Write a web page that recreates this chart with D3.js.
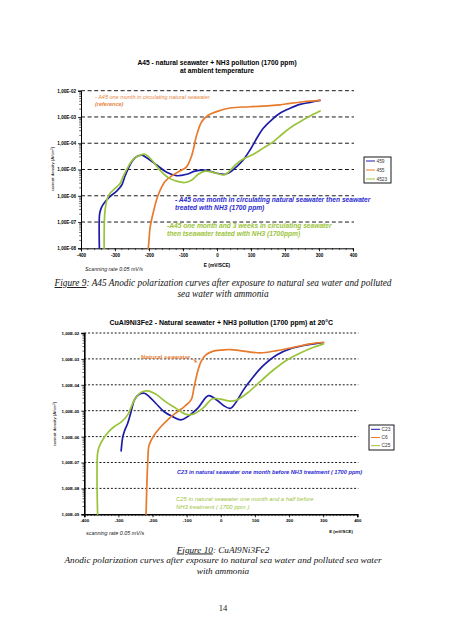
<!DOCTYPE html>
<html><head><meta charset="utf-8">
<script src="https://cdn.jsdelivr.net/npm/d3@7/dist/d3.min.js"></script>
<style>body{margin:0;background:#fff;}svg{display:block;}</style>
</head><body>
<script>
// ---------- DATA ----------
const xTickValues = [-400,-300,-200,-100,0,100,200,300,400];
const yTickLabels1 = ["1,00E-02","1,00E-03","1,00E-04","1,00E-05","1,00E-06","1,00E-07","1,00E-08"];
const yTickValues1 = [1e-2,1e-3,1e-4,1e-5,1e-6,1e-7,1e-8];
const yTickLabels2 = ["1,00E-02","1,00E-03","1,00E-04","1,00E-05","1,00E-06","1,00E-07","1,00E-08","1,00E-09"];
const yTickValues2 = [1e-2,1e-3,1e-4,1e-5,1e-6,1e-7,1e-8,1e-9];

// Figure 9 (A45)  E in mV/SCE, i in A/cm2
const s459E = [-346,-346,-344,-339,-329,-315,-295,-280,-271,-256,-241,-221,-207,-177,-148,-119,-89,-65,-40,-21,-1,24,38,58,77,97,117,136,161,185,215,244,274,303];
const s459I = [1e-8,1.58e-7,2.45e-7,3.8e-7,5.9e-7,9.3e-7,1.51e-6,2.57e-6,5.4e-6,1.48e-5,2.8e-5,3.5e-5,2.8e-5,1.48e-5,7.8e-6,5.8e-6,6.6e-6,8.7e-6,9.5e-6,8.7e-6,7.2e-6,6.6e-6,7.8e-6,1.29e-5,2.3e-5,5.5e-5,1.55e-4,3.7e-4,7.8e-4,1.38e-3,2.14e-3,3.0e-3,3.6e-3,4.3e-3];
const s455E = [-202,-200,-197,-187,-173,-153,-129,-104,-89,-74,-60,-45,-26,-1,38,97,156,185,215,254,303];
const s455I = [1e-8,2e-8,5.8e-8,2.45e-7,1.07e-6,3.5e-6,6.2e-6,9.5e-6,1.29e-5,3.5e-5,2.0e-4,6.6e-4,1.17e-3,1.6e-3,2.2e-3,2.45e-3,2.7e-3,2.9e-3,3.3e-3,3.8e-3,4.3e-3];
const s4523E = [-332,-331,-329,-324,-315,-300,-285,-276,-261,-246,-226,-212,-192,-168,-143,-119,-94,-74,-55,-35,-11,19,33,53,77,107,136,166,195,225,254,283,303];
const s4523I = [1e-8,1.38e-7,2.9e-7,6.9e-7,1.23e-6,1.9e-6,2.95e-6,5.4e-6,1.29e-5,2.5e-5,3.5e-5,3.8e-5,2.3e-5,9.5e-6,4.9e-6,3.6e-6,3.2e-6,4.0e-6,6.6e-6,8.7e-6,7.8e-6,6.2e-6,7.8e-6,1.48e-5,2.5e-5,3.8e-5,6.5e-5,1.15e-4,2.4e-4,4.7e-4,7.8e-4,1.26e-3,1.7e-3];

// Figure 10 (CuAl9Ni3Fe2)
const sC23E = [-292,-288,-283,-273,-263,-253,-239,-224,-210,-190,-166,-141,-117,-97,-68,-36,-12,8,28,42,67,96,125,165,204,243,282,301];
const sC23I = [2.8e-7,8.5e-7,1.55e-6,3.2e-6,9.1e-6,2.6e-5,4.3e-5,4.7e-5,3.5e-5,1.9e-5,9.1e-6,5.9e-6,4.4e-6,5.9e-6,1.23e-5,3.8e-5,2.6e-5,1.58e-5,1.23e-5,1.9e-5,6.5e-5,2.1e-4,5.6e-4,1.45e-3,2.45e-3,3.3e-3,4.0e-3,4.2e-3];
const sC6E = [-219,-217,-214,-210,-195,-175,-151,-127,-107,-87,-78,-68,-58,-43,-24,5,28,67,116,165,213,262,301];
const sC6I = [1e-9,1e-8,1.1e-7,4.7e-7,1.15e-6,2.45e-6,5.1e-6,9.1e-6,1.45e-5,2.6e-5,8.5e-5,3.2e-4,7.9e-4,1.45e-3,1.95e-3,2.2e-3,2.3e-3,2.0e-3,1.7e-3,2.1e-3,2.8e-3,3.8e-3,4.4e-3];
const sC25E = [-361,-361,-356,-346,-332,-312,-292,-273,-253,-234,-215,-190,-161,-131,-102,-83,-53,-24,-1,28,47,77,116,155,194,233,272,301];
const sC25I = [1e-9,2.3e-7,4.2e-7,7.6e-7,1.38e-6,2.45e-6,3.6e-6,6.9e-6,2.6e-5,5.1e-5,5.8e-5,4.3e-5,2.2e-5,1.23e-5,7.2e-6,7.2e-6,1.23e-5,2.9e-5,2.8e-5,2.35e-5,2.6e-5,4.7e-5,1.35e-4,3.8e-4,9.1e-4,1.7e-3,2.8e-3,3.8e-3];

const legend1 = ["459","455","4523"];
const legend2 = ["C23","C6","C25"];
const colors = ["#1c1ca8","#e87a2c","#99c43a"];

// ---------- DRAW ----------
const W = 452, H = 640;
const svg = d3.select("body").append("svg").attr("width", W).attr("height", H);
const SANS = "'Liberation Sans', Arial, sans-serif";
const SERIF = "'Liberation Serif', 'Times New Roman', serif";

function chart(o){
  const g = svg.append("g");
  const x = d3.scaleLinear().domain([-400,400]).range([o.left,o.right]);
  const y = d3.scaleLog().domain([o.yMin,1e-2]).range([o.bottom,o.top]);
  g.selectAll("line.grid").data(o.yVals.slice(0,-1)).join("line")
    .attr("x1",o.left).attr("x2",o.right+1)
    .attr("y1",d=>y(d)).attr("y2",d=>y(d))
    .attr("stroke","#000").attr("stroke-width",o.gridW).attr("stroke-dasharray",o.dash);
  const ya = d3.axisLeft(y).tickValues(o.yVals).tickFormat((d,i)=>o.yLabels[i]).tickSize(3).tickPadding(2);
  const yg = g.append("g").attr("transform",`translate(${o.left},0)`).call(ya);
  const xa = d3.axisBottom(x).tickValues(xTickValues).tickFormat(d=>d).tickSize(3).tickPadding(2);
  const xg = g.append("g").attr("transform",`translate(0,${o.bottom})`).call(xa);
  [yg,xg].forEach(a=>{
    a.select(".domain").attr("stroke","#000").attr("stroke-width",o.axisW);
    a.selectAll(".tick line").attr("stroke","#000").attr("stroke-width",0.8);
    a.selectAll("text").attr("font-family",SANS).attr("font-weight","bold").attr("font-size",o.tickFs).attr("fill","#000");
  });
  const minorY = [];
  o.yVals.forEach(v=>{ if(v<1e-2) for(let k=2;k<10;k++) minorY.push(v*k); });
  g.selectAll("line.my").data(minorY).join("line")
    .attr("x1",o.left-1.8).attr("x2",o.left).attr("y1",d=>y(d)).attr("y2",d=>y(d))
    .attr("stroke","#000").attr("stroke-width",0.6);
  g.selectAll("line.mx").data(d3.range(-400,401,o.minorX)).join("line")
    .attr("x1",d=>x(d)).attr("x2",d=>x(d)).attr("y1",o.bottom).attr("y2",o.bottom+1.8)
    .attr("stroke","#000").attr("stroke-width",0.6);
  const line = d3.line().x(d=>x(d[0])).y(d=>y(d[1])).curve(d3.curveCatmullRom.alpha(0.5));
  o.series.forEach((s,i)=>{
    g.append("path").datum(s.E.map((e,j)=>[e,s.I[j]]))
      .attr("d",line).attr("fill","none").attr("stroke",colors[i])
      .attr("stroke-width",o.lineW).attr("stroke-linejoin","round").attr("stroke-linecap","round");
  });
  const L = o.legend;
  g.append("rect").attr("x",L.x).attr("y",L.y).attr("width",L.w).attr("height",L.h)
    .attr("fill","#fff").attr("stroke","#000").attr("stroke-width",0.9);
  o.legendLabels.forEach((t,i)=>{
    const yy = L.y + L.r0 + i*L.dy;
    g.append("line").attr("x1",L.x+2).attr("x2",L.x+11).attr("y1",yy).attr("y2",yy)
      .attr("stroke",colors[i]).attr("stroke-width",1);
    g.append("text").attr("x",L.x+12.5).attr("y",yy+1.7).text(t)
      .attr("font-family",SANS).attr("font-size",4.8).attr("fill","#333");
  });
  return {g,x,y};
}

function txt(x,y,t,opt){
  const e = svg.append("text").attr("x",x).attr("y",y).text(t)
    .attr("font-family",opt.ff||SANS).attr("font-size",opt.fs)
    .attr("fill",opt.fill||"#000")
    .attr("font-weight",opt.fw||"normal").attr("font-style",opt.st||"normal")
    .attr("text-anchor",opt.anchor||"start");
  if(opt.rot) e.attr("transform",`rotate(${opt.rot},${x},${y})`);
  return e;
}

// Figure 9
chart({left:81,right:353,top:90.7,bottom:248.3,yMin:1e-8,yVals:yTickValues1,yLabels:yTickLabels1,
  dash:"4,2.6",gridW:0.9,axisW:1,tickFs:4.6,minorX:20,lineW:1.7,
  series:[{E:s459E,I:s459I},{E:s455E,I:s455I},{E:s4523E,I:s4523I}],
  legend:{x:364,y:157,w:27,h:26,r0:4,dy:9},legendLabels:legend1});

txt(217,64.5,"A45 - natural seawater + NH3 pollution (1700 ppm)",{fs:6.7,fw:"bold",anchor:"middle"});
txt(217,72.8,"at ambient temperature",{fs:6.7,fw:"bold",anchor:"middle"});
txt(54,169,"current density (A/cm²)",{fs:4.4,anchor:"middle",rot:-90});
txt(217,267,"E (mV/SCE)",{fs:4.8,fw:"bold",anchor:"middle"});
txt(85,271,"Scanning rate 0.05 mV/s",{fs:5.3,st:"italic",fill:"#222"});
txt(95,99,"- A45 one month in  circulating natural seawater",{fs:5.5,st:"italic",fill:"#e8843c"});
txt(95,105.8,"(reference)",{fs:5.5,st:"italic",fw:"bold",fill:"#e8843c"});
txt(175,201.5,"- A45 one month in circulating natural seawater then seawater",{fs:6.65,st:"italic",fw:"bold",fill:"#2a2ad0"});
txt(175,210.2,"treated with NH3 (1700 ppm)",{fs:6.65,st:"italic",fw:"bold",fill:"#2a2ad0"});
txt(167,227.5,"-A45 one month and 3 weeks in circulating seawater",{fs:6.65,st:"italic",fw:"bold",fill:"#9cc43c"});
txt(167,236.2,"then tseawater teated with NH3 (1700ppm)",{fs:6.65,st:"italic",fw:"bold",fill:"#9cc43c"});

// Figure 10
chart({left:84.3,right:357.3,top:333,bottom:514.3,yMin:1e-9,yVals:yTickValues2,yLabels:yTickLabels2,
  dash:"2,1.8",gridW:0.9,axisW:1.6,tickFs:4.4,minorX:10,lineW:1.7,
  series:[{E:sC23E,I:sC23I},{E:sC6E,I:sC6I},{E:sC25E,I:sC25I}],
  legend:{x:369,y:425,w:25,h:25,r0:4.3,dy:8.2},legendLabels:legend2});

txt(221.3,324.5,"CuAl9Ni3Fe2 - Natural seawater + NH3 pollution (1700 ppm)  at 20°C",{fs:7.0,fw:"bold",anchor:"middle"});
txt(56,424,"current density (A/cm²)",{fs:4.4,anchor:"middle",rot:-90});
txt(341,533,"E (mV/SCE)",{fs:4.3,fw:"bold",anchor:"middle"});
txt(86,535,"scanning rate 0.05 mV/s",{fs:5.4,st:"italic",fill:"#222"});
txt(141,358.8,"Natural seawater",{fs:6.2,fw:"bold",fill:"#e8843c"});
svg.append("line").attr("x1",192).attr("y1",359).attr("x2",196).attr("y2",361.5).attr("stroke","#e8843c").attr("stroke-width",0.8);
svg.append("path").attr("d","M197.5,362.3 L194.2,362.4 L195.6,359.8 Z").attr("fill","#e8843c");
txt(177,473.5,"C23 in natural seawater one month before NH3 treatment  ( 1700 ppm)",{fs:5.65,st:"italic",fw:"bold",fill:"#2a2ad0"});
txt(176,501,"C25  in natural seawater one month and a half before",{fs:5.9,st:"italic",fill:"#9cc43c"});
txt(176,508.5,"NH3 treatment ( 1700 ppm )",{fs:5.9,st:"italic",fill:"#9cc43c"});

// Captions
function caption(y,label,rest,fs){
  const t = svg.append("text").attr("x",223).attr("y",y).attr("text-anchor","middle")
    .attr("font-family",SERIF).attr("font-size",fs).attr("font-style","italic").attr("fill","#111");
  if(label) t.append("tspan").attr("text-decoration","underline").text(label);
  t.append("tspan").text(rest);
}
caption(286,"Figure 9",": A45 Anodic polarization curves after exposure to natural sea water and polluted",9.3);
caption(296.5,null,"sea water with ammonia",9.3);
caption(552.5,"Figure 10",": CuAl9Ni3Fe2",9.2);
caption(563,null,"Anodic polarization curves after exposure to natural sea water and polluted sea water",9.2);
caption(573.5,null,"with ammonia",9.2);
txt(223,611,"14",{ff:SERIF,fs:8.5,anchor:"middle",fill:"#111"});
</script>
</body></html>
